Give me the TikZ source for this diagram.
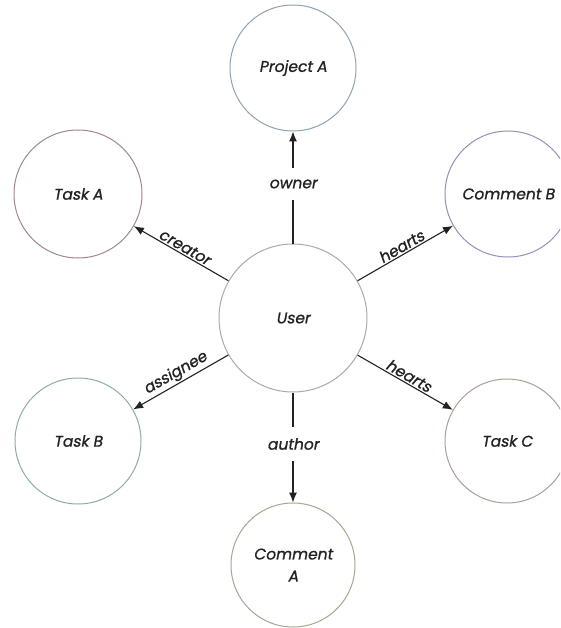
\documentclass[tikz,border=0pt]{standalone}
\usepackage{fontspec}
\newfontfamily\diafont{Poppins}[FakeSlant=0.18,FakeBold=0.9]
\usetikzlibrary{arrows.meta}
\definecolor{projC}{HTML}{8FA3B1}
\definecolor{taskAC}{HTML}{A08595}
\definecolor{comBC}{HTML}{9590B8}
\definecolor{userC}{HTML}{AAAAAA}
\definecolor{taskBC}{HTML}{8FAE9F}
\definecolor{taskCC}{HTML}{AE9E96}
\definecolor{comAC}{HTML}{A6A692}
\definecolor{txtC}{HTML}{222222}
\begin{document}
\begin{tikzpicture}[x=1pt,y=-1pt,
  ent/.style={circle,draw,line width=1pt,fill=white,text=txtC,font=\diafont\fontsize{15.5}{17}\selectfont,align=center,inner sep=0pt},
  rel/.style={line width=1.1pt,draw=txtC},
  relarrow/.style={rel,-{Latex[length=10pt,width=8pt]}},
  lab/.style={text=txtC,font=\diafont\fontsize{15.5}{17}\selectfont,inner sep=1.5pt},
  gaplab/.style={lab,inner xsep=2pt,inner ysep=11pt}]
\useasboundingbox (0,0) rectangle (560,628);
\clip (0,0) rectangle (560,628);
\fill[white] (0,0) rectangle (560,628);
\node[ent,draw=userC,minimum size=148pt] (user) at (293,318) {User};
\node[ent,draw=projC,minimum size=126pt] (proj) at (293,68) {Project A};
\node[ent,draw=taskAC,minimum size=128pt] (taska) at (78,194) {Task A};
\node[ent,draw=comBC,minimum size=126pt] (comb) at (508,194) {Comment B};
\node[ent,draw=taskBC,minimum size=126pt] (taskb) at (78,441) {Task B};
\node[ent,draw=taskCC,minimum size=124pt] (taskc) at (507,441) {Task C};
\node[ent,draw=comAC,minimum size=124pt] (coma) at (293,565) {Comment\\[5pt]A};
% vertical relations with label gaps
\node[gaplab] (lowner) at (293,184) {owner};
\draw[rel] (user) -- (lowner);
\draw[relarrow] (lowner) -- (proj);
\node[gaplab] (lauthor) at (293,444) {author};
\draw[rel] (user) -- (lauthor);
\draw[relarrow] (lauthor) -- (coma);
% sloped relations
\draw[relarrow] (user) -- node[lab,sloped,above] (lcreator) {creator} (taska);
\draw[relarrow] (user) -- node[lab,sloped,above] (lheartsb) {hearts} (comb);
\draw[relarrow] (user) -- node[lab,sloped,above] (lassignee) {assignee} (taskb);
\draw[relarrow] (user) -- node[lab,sloped,above] (lheartsc) {hearts} (taskc);
\end{tikzpicture}
\end{document}
